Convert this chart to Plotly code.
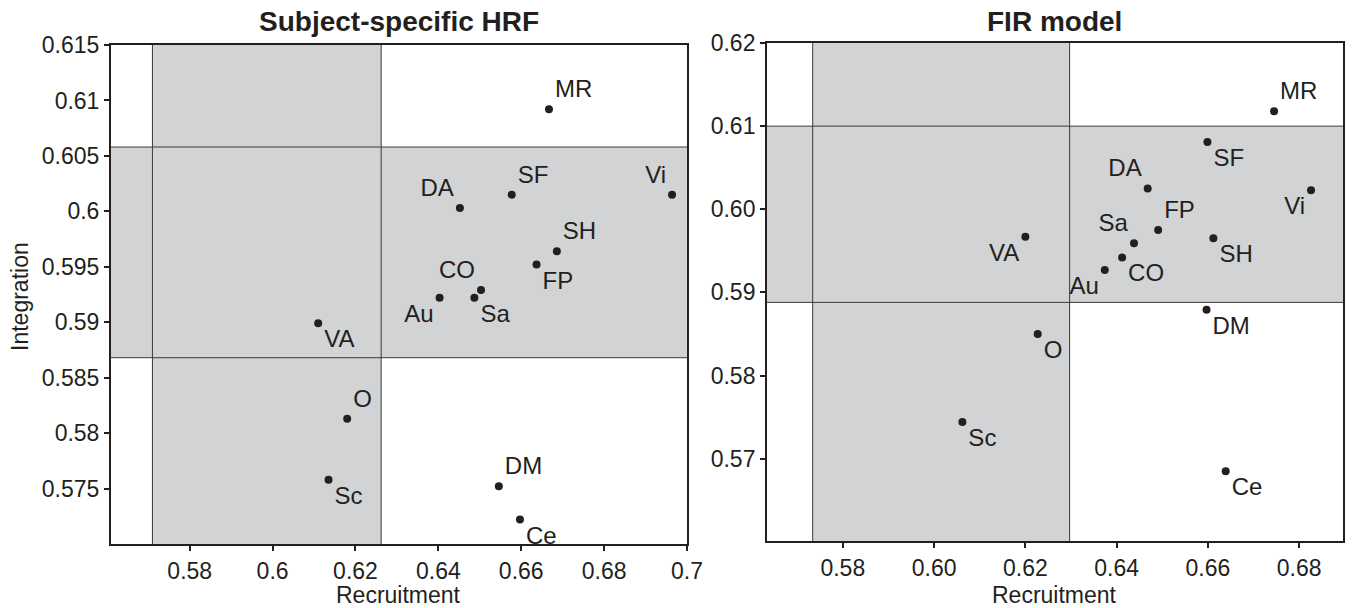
import plotly.graph_objects as go

# ---- data ----
names = ["MR", "SF", "DA", "Vi", "SH", "FP", "CO", "Au", "Sa", "VA", "O", "Sc", "DM", "Ce"]

hrf_recruitment = [0.6667, 0.6577, 0.6452, 0.6964, 0.6686, 0.6637, 0.6503, 0.6403, 0.6487, 0.6110, 0.6180, 0.6135, 0.6546, 0.6597]
hrf_integration = [0.6092, 0.6015, 0.6003, 0.6015, 0.5964, 0.5952, 0.5929, 0.5922, 0.5922, 0.5899, 0.5813, 0.5758, 0.5752, 0.5722]
hrf_label_pos = ["top right", "top right", "top left", "top left", "top right", "bottom right", "top left",
                 "bottom left", "bottom right", "bottom right", "top right", "bottom right", "top right", "bottom right"]

fir_recruitment = [0.6745, 0.6599, 0.6468, 0.6826, 0.6612, 0.6491, 0.6412, 0.6374, 0.6438, 0.6200, 0.6227, 0.6062, 0.6597, 0.6639]
fir_integration = [0.6118, 0.6081, 0.6025, 0.6023, 0.5965, 0.5975, 0.5942, 0.5927, 0.5959, 0.5967, 0.5850, 0.5744, 0.5879, 0.5685]
fir_label_pos = ["top right", "bottom right", "top left", "bottom left", "bottom right", "top right", "bottom right",
                 "bottom left", "top left", "bottom left", "bottom right", "bottom right", "bottom right", "bottom right"]

# band limits (recruitment low/high, integration low/high)
hrf_rec_band = [0.5710, 0.6262]
hrf_int_band = [0.5868, 0.6058]
fir_rec_band = [0.5734, 0.6297]
fir_int_band = [0.5888, 0.6100]

hrf_xrange = [0.5610, 0.7000]
hrf_yrange = [0.5700, 0.6150]
fir_xrange = [0.5634, 0.6896]
fir_yrange = [0.5601, 0.6200]

hrf_xticks = [0.58, 0.60, 0.62, 0.64, 0.66, 0.68, 0.70]
hrf_xticktext = ["0.58", "0.6", "0.62", "0.64", "0.66", "0.68", "0.7"]
hrf_yticks = [0.575, 0.580, 0.585, 0.590, 0.595, 0.600, 0.605, 0.610, 0.615]
hrf_yticktext = ["0.575", "0.58", "0.585", "0.59", "0.595", "0.6", "0.605", "0.61", "0.615"]
fir_xticks = [0.58, 0.60, 0.62, 0.64, 0.66, 0.68]
fir_xticktext = ["0.58", "0.60", "0.62", "0.64", "0.66", "0.68"]
fir_yticks = [0.57, 0.58, 0.59, 0.60, 0.61, 0.62]
fir_yticktext = ["0.57", "0.58", "0.59", "0.60", "0.61", "0.62"]

titles = ["Subject-specific HRF", "FIR model"]
x_title = "Recruitment"
y_title = "Integration"

FONT = "Liberation Sans, Arial, sans-serif"
TXT = "#231f20"
GRAY = "#d1d3d4"
LINE = "#3a3a3a"

fig = go.Figure()

panels = [
    (hrf_recruitment, hrf_integration, hrf_label_pos, hrf_rec_band, hrf_int_band, hrf_xrange, hrf_yrange, "x", "y"),
    (fir_recruitment, fir_integration, fir_label_pos, fir_rec_band, fir_int_band, fir_xrange, fir_yrange, "x2", "y2"),
]

shapes = []
for rx, iy, pos, rb, ib, xr, yr, xa, ya in panels:
    shapes.append(dict(type="rect", xref=xa, yref=ya, x0=rb[0], x1=rb[1], y0=yr[0], y1=yr[1],
                       fillcolor=GRAY, line_width=0, layer="below"))
    shapes.append(dict(type="rect", xref=xa, yref=ya, x0=xr[0], x1=xr[1], y0=ib[0], y1=ib[1],
                       fillcolor=GRAY, line_width=0, layer="below"))
    for v in rb:
        shapes.append(dict(type="line", xref=xa, yref=ya, x0=v, x1=v, y0=yr[0], y1=yr[1],
                           line=dict(color=LINE, width=1), layer="below"))
    for h in ib:
        shapes.append(dict(type="line", xref=xa, yref=ya, x0=xr[0], x1=xr[1], y0=h, y1=h,
                           line=dict(color=LINE, width=1), layer="below"))
    fig.add_trace(go.Scatter(
        x=rx, y=iy, mode="markers+text", text=names, textposition=pos,
        marker=dict(size=8, color="#231f20"),
        textfont=dict(family=FONT, size=24, color=TXT),
        xaxis=xa, yaxis=ya, showlegend=False, cliponaxis=False, hoverinfo="skip",
    ))

axis_common = dict(showgrid=False, zeroline=False, showline=True, linecolor="#231f20", linewidth=2,
                   mirror=True, ticks="outside", ticklen=5, tickwidth=2, tickcolor="#231f20",
                   automargin=False,
                   tickfont=dict(family=FONT, size=23, color=TXT))

fig.update_layout(
    width=1352, height=608,
    margin=dict(l=111, r=9, t=43, b=64),
    paper_bgcolor="white", plot_bgcolor="white",
    shapes=shapes,
    xaxis=dict(domain=[0, 0.4675], range=hrf_xrange, tickvals=hrf_xticks, ticktext=hrf_xticktext,
               anchor="y", **axis_common),
    yaxis=dict(domain=[0, 0.996], range=hrf_yrange, tickvals=hrf_yticks, ticktext=hrf_yticktext,
               anchor="x", **axis_common),
    xaxis2=dict(domain=[0.5325, 1], range=fir_xrange, tickvals=fir_xticks, ticktext=fir_xticktext,
                anchor="y2", **axis_common),
    yaxis2=dict(domain=[0.006, 1], range=fir_yrange, tickvals=fir_yticks, ticktext=fir_yticktext,
                anchor="x2", **axis_common),
    annotations=[
        dict(text="<b>" + titles[0] + "</b>", x=0.23375, y=1.042, xref="paper", yref="paper",
             showarrow=False, xanchor="center", yanchor="middle",
             font=dict(family=FONT, size=28, color=TXT)),
        dict(text="<b>" + titles[1] + "</b>", x=0.766, y=1.042, xref="paper", yref="paper",
             showarrow=False, xanchor="center", yanchor="middle",
             font=dict(family=FONT, size=28, color=TXT)),
        dict(text=x_title, x=0.23375, y=-0.102, xref="paper", yref="paper",
             showarrow=False, xanchor="center", yanchor="middle",
             font=dict(family=FONT, size=23, color=TXT)),
        dict(text=x_title, x=0.766, y=-0.102, xref="paper", yref="paper",
             showarrow=False, xanchor="center", yanchor="middle",
             font=dict(family=FONT, size=23, color=TXT)),
        dict(text=y_title, x=-0.0739, y=0.495, xref="paper", yref="paper", textangle=-90,
             showarrow=False, xanchor="center", yanchor="middle",
             font=dict(family=FONT, size=23, color=TXT)),
    ],
)

# remove the default 8px page margin so the figure fills the window exactly
fig.write_html("out.html", config={"displayModeBar": False},
               post_script="document.body.style.margin='0';")
